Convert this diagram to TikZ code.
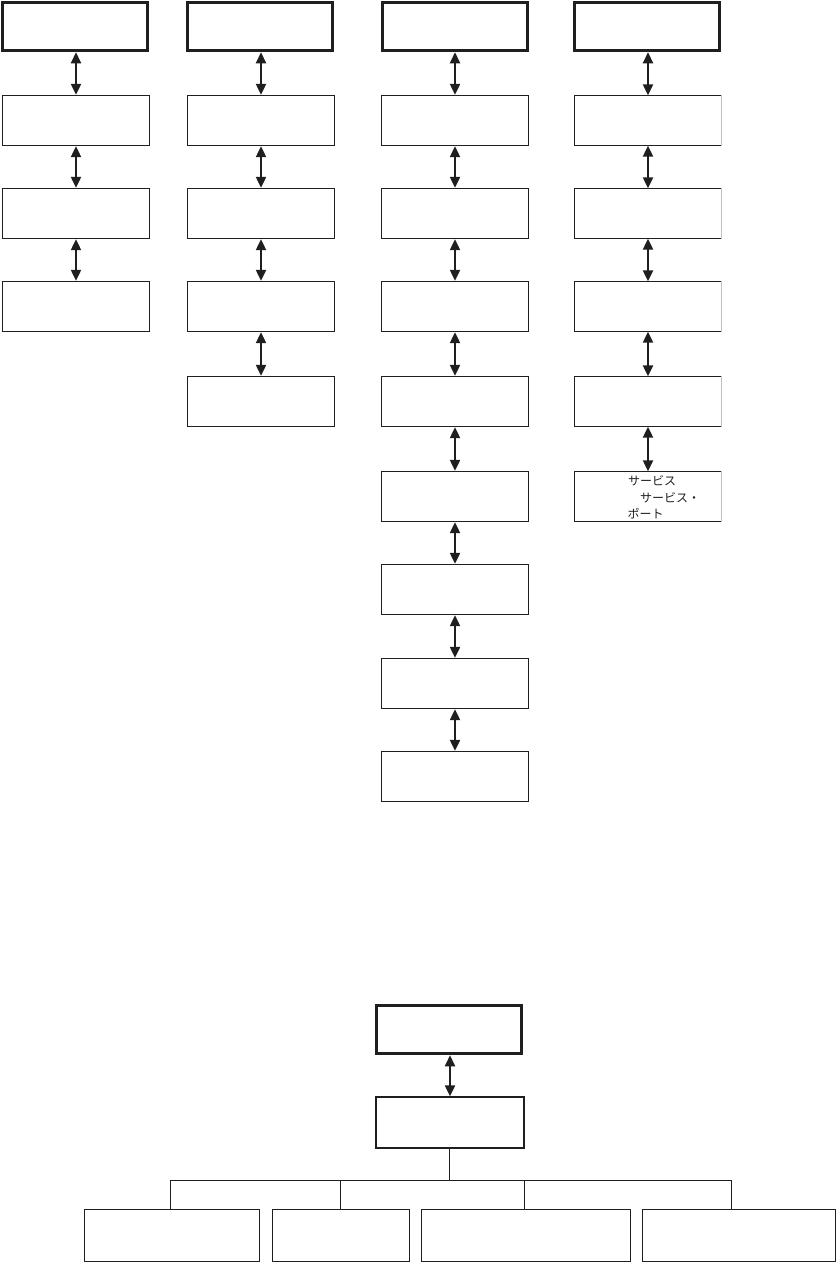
\documentclass[tikz,border=0pt]{standalone}
\usepackage{fontspec}
\newfontfamily\jpfont{Noto Sans CJK JP}
\usetikzlibrary{arrows.meta}
\begin{document}
\begin{tikzpicture}[x=1pt,y=-1pt,
  box/.style={draw=black!88,line width=1.4pt,rectangle,inner sep=0pt,minimum width=147pt,minimum height=50pt},
  topbox/.style={draw=black!88,line width=3pt,rectangle,inner sep=0pt,minimum width=145pt,minimum height=48.5pt},
  openbox/.style={rectangle,inner sep=0pt,minimum width=147pt,minimum height=50pt},
  link/.style={draw=black!88,line width=2.2pt,{Triangle[width=10pt,length=11pt]}-{Triangle[width=10pt,length=11pt]}},
  tree/.style={draw=black!88,line width=1.4pt},
  jp/.style={font=\jpfont\fontsize{12pt}{14pt}\selectfont,inner sep=0pt,anchor=west,text=black!88}]
\useasboundingbox (0,0) rectangle (836,1262);
% column 1
\node[topbox] (a0) at (75,26.5) {};
\node[box] (a1) at (76,120.5) {};
\node[box] (a2) at (76,213.5) {};
\node[box] (a3) at (76,306.5) {};
% column 2
\node[topbox] (b0) at (260,26.5) {};
\node[box] (b1) at (261,120.5) {};
\node[box] (b2) at (261,213.5) {};
\node[box] (b3) at (261,306.5) {};
\node[box] (b4) at (261,401.5) {};
% column 3
\node[topbox] (c0) at (454.5,26.5) {};
\node[box] (c1) at (455,120.5) {};
\node[box] (c2) at (455,213.5) {};
\node[box] (c3) at (455,306.5) {};
\node[box] (c4) at (455,401.5) {};
\node[box] (c5) at (455,496.5) {};
\node[box] (c6) at (455,589.5) {};
\node[box] (c7) at (455,683.5) {};
\node[box] (c8) at (455,776.5) {};
% column 4
\node[topbox] (d0) at (646.5,26.5) {};
\foreach \n/\y in {1/120.5,2/213.5,3/306.5,4/401.5,5/496.5}{
  \node[openbox] (d\n) at (648,\y) {};
  \draw[tree] (d\n.north east) -- (d\n.north west) -- (d\n.south west) -- (d\n.south east);
  \draw[draw=black!25,line width=0.8pt] (d\n.north east) -- (d\n.south east);
}
\node[jp] (t1) at (628,481) {サービス};
\node[jp] (t2) at (640,497.5) {サービス・};
\node[jp] (t3) at (627.5,513.5) {ポート};
% arrows
\draw[link] (a0.south -| a1.north) -- (a1.north);
\draw[link] (a1.south) -- (a2.north);
\draw[link] (a2.south) -- (a3.north);
\draw[link] (b0.south -| b1.north) -- (b1.north);
\draw[link] (b1.south) -- (b2.north);
\draw[link] (b2.south) -- (b3.north);
\draw[link] (b3.south) -- (b4.north);
\draw[link] (c0.south -| c1.north) -- (c1.north);
\foreach \i/\j in {1/2,2/3,3/4,4/5,5/6,6/7,7/8}{
  \draw[link] (c\i.south) -- (c\j.north);
}
\draw[link] (d0.south -| d1.north) -- (d1.north);
\foreach \i/\j in {1/2,2/3,3/4,4/5}{
  \draw[link] (d\i.south) -- (d\j.north);
}
% bottom tree
\node[topbox] (e0) at (449,1029.5) {};
\node[box,minimum width=148pt,minimum height=51pt] (e1) at (450,1122.5) {};
\draw[link] (e0.south -| e1.north) -- (e1.north);
\node[box,minimum width=175pt,minimum height=52pt] (f1) at (171.7,1235.3) {};
\node[box,minimum width=137pt,minimum height=52pt] (f2) at (340.8,1235.3) {};
\node[box,minimum width=209.5pt,minimum height=52pt] (f3) at (526,1235.3) {};
\node[box,minimum width=193.3pt,minimum height=52pt] (f4) at (739,1235.3) {};
\coordinate (j0) at (449.3,1180.4);
\coordinate (j1) at (170.3,1180.4);
\coordinate (j2) at (340.3,1180.4);
\coordinate (j3) at (524.3,1180.4);
\coordinate (j4) at (731.3,1180.4);
\draw[tree] (j0 |- e1.south) -- (j0);
\draw[tree] (j1) -- (j4);
\draw[tree] (j1) -- (j1 |- f1.north);
\draw[tree] (j2) -- (j2 |- f2.north);
\draw[tree] (j3) -- (j3 |- f3.north);
\draw[tree] (j4) -- (j4 |- f4.north);
\end{tikzpicture}
\end{document}
